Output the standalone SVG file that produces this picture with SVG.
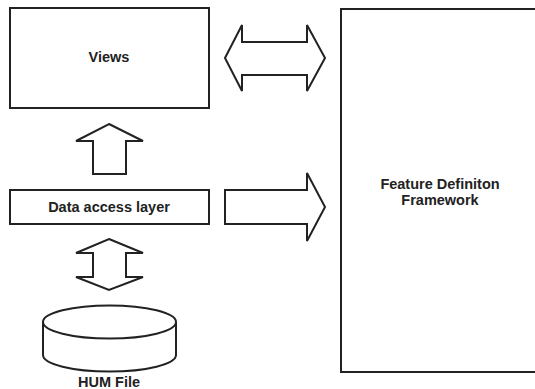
<svg xmlns="http://www.w3.org/2000/svg" width="535" height="389" viewBox="0 0 535 389">
<style>
.box{fill:#fff;stroke:#222;stroke-width:2}
.arr{fill:#fff;stroke:#222;stroke-width:2;stroke-linejoin:miter}
.lbl{font-family:"Liberation Sans",Arial,sans-serif;font-weight:bold;font-size:14.5px;fill:#222;text-anchor:middle}
</style>
<rect width="535" height="389" fill="#fff"/>
<g id="views">
<rect class="box" x="10" y="8" width="199" height="100"/>
<text class="lbl" x="109" y="62">Views</text>
</g>
<g id="data-access-layer">
<rect class="box" x="10" y="190" width="199" height="34"/>
<text class="lbl" x="109" y="212">Data access layer</text>
</g>
<g id="feature-definition-framework">
<rect class="box" x="341" y="9" width="220" height="363"/>
<text class="lbl" x="440" y="189">Feature Definiton</text>
<text class="lbl" x="440" y="205">Framework</text>
</g>
<g id="hum-file">
<path class="box" d="M43,322 V355 A66.5,16.5 0 0 0 176,355 V322"/>
<ellipse class="box" cx="109.5" cy="322" rx="66.5" ry="16.5"/>
<text class="lbl" x="109" y="387">HUM File</text>
</g>
<g id="connectors">
<polygon class="arr" points="225,58 242,25 242,42 307,42 307,25 325,58 307,91 307,75 242,75 242,91"/>
<polygon class="arr" points="109,124 143,141 126,141 126,174 93,174 93,141 76,141"/>
<polygon class="arr" points="225,190 307,190 307,173 325,207 307,241 307,224 225,224"/>
<polygon class="arr" points="109,239 143,253 126,253 126,277 143,277 109,290 76,277 93,277 93,253 76,253"/>
</g>
</svg>
